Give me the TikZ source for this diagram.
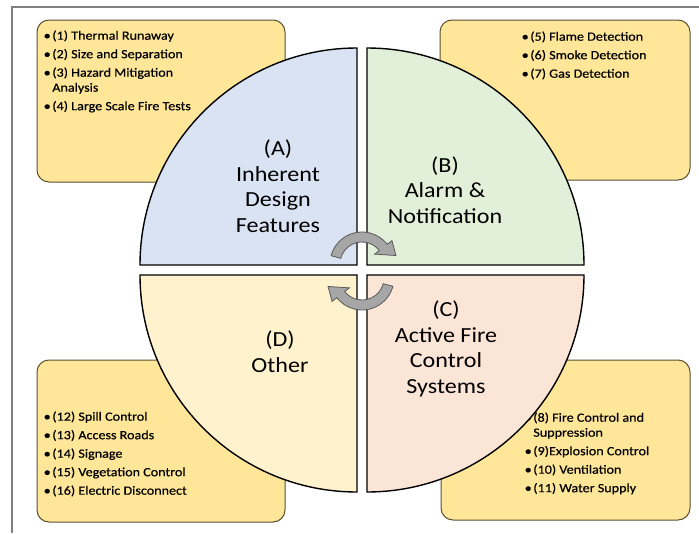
\documentclass[tikz,border=0pt]{standalone}
\usepackage{fontspec}
\setmainfont{Carlito}[FakeStretch=1.12]
\newfontfamily\listfont{Carlito}[FakeStretch=1.12, FakeBold=0.5]
\usetikzlibrary{positioning}
\definecolor{cInh}    {RGB}{218, 227, 243}
\definecolor{cAlm}    {RGB}{226, 240, 217}
\definecolor{cAct}    {RGB}{251, 229, 214}
\definecolor{cOth}    {RGB}{255, 242, 204}
\definecolor{cBox}    {RGB}{255, 230, 153}
\definecolor{cBoxEdge}{RGB}{90,  80,  50}
\definecolor{cCyc}    {RGB}{166, 166, 166}
\definecolor{cCycEdge}{RGB}{89,  89,  89}
\definecolor{cFrame}  {RGB}{128, 128, 128}
\tikzset{
  listB/.style = {draw=cBoxEdge, fill=cBox, rounded corners=12pt,
                  line width=1pt, inner sep=0pt},
  sect/.style  = {draw=black, line width=1.4pt},
  lbl/.style   = {font=\fontsize{21.5}{25.5}\selectfont, align=center,
                  inner sep=0pt, anchor=base},
  items/.style = {font=\listfont\fontsize{12.6}{15}\selectfont, inner sep=0pt},
  cyc/.style   = {fill=cCyc, draw=cCycEdge, line width=0.8pt},
}
\newcommand{\itemtab}[1]{%
  \renewcommand{\arraystretch}{1}%
  \begin{tabular}{@{}l@{\hspace{1.6pt}}l@{}}#1\end{tabular}}

\begin{document}
\begin{tikzpicture}[x=1pt, y=-1pt]
\useasboundingbox (0,0) rectangle (699,533);

%% ─── Frame ───────────────────────────────────────────────────────
\draw[cFrame, line width=1.2pt] (12,533) -- (12,7) -- (699,7);

%% ════════════════════════════════════════════
%%  List boxes (behind the circle)
%% ════════════════════════════════════════════
\node[listB, minimum width=248pt, minimum height=162pt] (boxInh) at (161,101) {};
\node[listB, minimum width=250pt, minimum height=160pt] (boxAlm) at (565,100) {};
\node[listB, minimum width=248pt, minimum height=162pt] (boxOth) at (161,441) {};
\node[listB, minimum width=249pt, minimum height=160pt] (boxAct) at (565.5,440) {};

\node[items, below right=9.5pt and 7pt of boxInh.north west] (lstInh)
  {\itemtab{\textbullet & (1) Thermal Runaway\\[3.5pt]
            \textbullet & (2) Size and Separation\\[3.5pt]
            \textbullet & (3) Hazard Mitigation\\
                        & Analysis\\[3.5pt]
            \textbullet & (4) Large Scale Fire Tests}};

\node[items, below right=10.5pt and 82pt of boxAlm.north west] (lstAlm)
  {\itemtab{\textbullet & (5) Flame Detection\\[3.5pt]
            \textbullet & (6) Smoke Detection\\[3.5pt]
            \textbullet & (7) Gas Detection}};

\node[items, below right=50.5pt and 7pt of boxOth.north west] (lstOth)
  {\itemtab{\textbullet & (12) Spill Control\\[3.5pt]
            \textbullet & (13) Access Roads\\[3.5pt]
            \textbullet & (14) Signage\\[3.5pt]
            \textbullet & (15) Vegetation Control\\[3.5pt]
            \textbullet & (16) Electric Disconnect}};

\node[items, below right=51.5pt and 84pt of boxAct.north west] (lstAct)
  {\itemtab{\textbullet & (8) Fire Control and\\
                        & Suppression\\[3.5pt]
            \textbullet & (9)Explosion Control\\[3.5pt]
            \textbullet & (10) Ventilation\\[3.5pt]
            \textbullet & (11) Water Supply}};

%% ════════════════════════════════════════════
%%  Four quadrants
%% ════════════════════════════════════════════
\draw[sect, fill=cInh] (357,265) -- ++(-217,0)
  arc[start angle=180, end angle=270, radius=217] -- cycle;
\draw[sect, fill=cAlm] (367,265) -- ++(0,-217)
  arc[start angle=270, end angle=360, radius=217] -- cycle;
\draw[sect, fill=cAct] (367,275) -- ++(217,0)
  arc[start angle=0, end angle=90, radius=217] -- cycle;
\draw[sect, fill=cOth] (357,275) -- ++(0,217)
  arc[start angle=90, end angle=180, radius=217] -- cycle;

%% labels sit on the baseline of their last line
\node[lbl] (lblInh) at (278,232) {(A)\\Inherent\\Design\\Features};
\node[lbl] (lblAlm) at (445,223) {(B)\\Alarm \&\\Notification};
\node[lbl] (lblAct) at (446,393) {(C)\\Active Fire\\Control\\Systems};
\node[lbl] (lblOth) at (280,372) {(D)\\Other};

%% ─── Cycle arrows ────────────────────────────────────────────────
\begin{scope}[shift={(362,264)}]
  \draw[cyc] (-165:32) arc[start angle=-165, end angle=-38, radius=32]
    -- (-38:38) -- (-14:35) -- (-38:16) -- (-38:22)
    arc[start angle=-38, end angle=-165, radius=22] -- cycle;
\end{scope}
\begin{scope}[shift={(362,278)}]
  \draw[cyc] (15:32) arc[start angle=15, end angle=142, radius=32]
    -- (142:38) -- (166:35) -- (142:16) -- (142:22)
    arc[start angle=142, end angle=15, radius=22] -- cycle;
\end{scope}

\end{tikzpicture}
\end{document}
